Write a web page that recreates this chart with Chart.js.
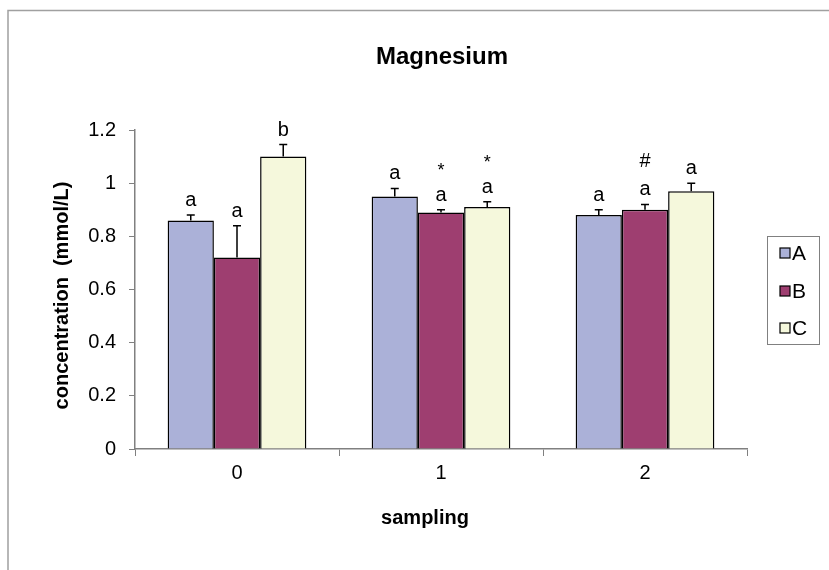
<!DOCTYPE html>
<html>
<head>
<meta charset="utf-8">
<script src="https://cdn.jsdelivr.net/npm/chart.js@4/dist/chart.umd.min.js"></script>
<style>
  html, body { margin: 0; padding: 0; background: #fff; }
  #wrap { width: 829px; height: 570px; }
</style>
</head>
<body>
<div id="wrap"><canvas id="chart" width="829" height="570"></canvas></div>
<script>
// данные
const samplings = ['0', '1', '2'];
const groupNames = ['A', 'B', 'C'];
const valuesA = [0.86, 0.95, 0.88];
const valuesB = [0.72, 0.89, 0.90];
const valuesC = [1.10, 0.91, 0.97];
const errorsA = [0.02, 0.03, 0.02];
const errorsB = [0.12, 0.01, 0.02];
const errorsC = [0.045, 0.02, 0.03];
const lettersA = ['a', 'a', 'a'];
const lettersB = ['a', 'a', 'a'];
const lettersC = ['b', 'a', 'a'];
const marksB = ['', '*', '#'];
const marksC = ['', '*', ''];
const yTickValues = [0, 0.2, 0.4, 0.6, 0.8, 1, 1.2];

const colors = ['#abb1d8', '#9e3e70', '#f5f8dc'];
const FONT = 'Liberation Sans, Arial, sans-serif';

const datasets = [
    { label: groupNames[0], data: valuesA, errors: errorsA, letters: lettersA, marks: ['', '', ''] },
    { label: groupNames[1], data: valuesB, errors: errorsB, letters: lettersB, marks: marksB },
    { label: groupNames[2], data: valuesC, errors: errorsC, letters: lettersC, marks: marksC }
].map((d, i) => Object.assign(d, {
    backgroundColor: colors[i],
    borderColor: '#000',
    borderWidth: 1.5,
    barPercentage: 1,
    categoryPercentage: 0.68
}));

// рисуем усы, буквы, подписи и легенду поверх графика
const extras = {
    id: 'extras',
    afterDatasetsDraw(chart) {
        const ctx = chart.ctx;
        const y = chart.scales.y;
        ctx.save();
        chart.data.datasets.forEach((ds, di) => {
            const meta = chart.getDatasetMeta(di);
            meta.data.forEach((bar, i) => {
                const top = y.getPixelForValue(ds.data[i]);
                const cap = y.getPixelForValue(ds.data[i] + ds.errors[i]);
                ctx.strokeStyle = '#000';
                ctx.lineWidth = 1.5;
                ctx.beginPath();
                ctx.moveTo(bar.x, top);
                ctx.lineTo(bar.x, cap);
                ctx.moveTo(bar.x - 4, cap);
                ctx.lineTo(bar.x + 4, cap);
                ctx.stroke();

                ctx.fillStyle = '#000';
                ctx.textAlign = 'center';
                ctx.textBaseline = 'alphabetic';
                ctx.font = '20px ' + FONT;
                ctx.fillText(ds.letters[i], bar.x, cap - 9);
                if (ds.marks[i]) {
                    ctx.font = (ds.marks[i] === '*' ? '18px ' : '20px ') + FONT;
                    ctx.fillText(ds.marks[i], bar.x, cap - (ds.marks[i] === '*' ? 34 : 37));
                }
            });
        });
        ctx.restore();
    },
    afterDraw(chart) {
        const ctx = chart.ctx;
        const area = chart.chartArea;
        ctx.save();

        // рамка
        ctx.strokeStyle = '#a0a0a0';
        ctx.lineWidth = 1.5;
        ctx.beginPath();
        ctx.moveTo(8, 570);
        ctx.lineTo(8, 10.5);
        ctx.lineTo(829, 10.5);
        ctx.stroke();

        ctx.fillStyle = '#000';
        ctx.textAlign = 'center';
        ctx.textBaseline = 'middle';
        ctx.font = 'bold 24px ' + FONT;
        ctx.fillText('Magnesium', 442, 57);

        ctx.font = 'bold 20px ' + FONT;
        ctx.fillText('sampling', 425, 518);

        ctx.save();
        ctx.translate(62, (area.top + area.bottom) / 2 + 6);
        ctx.rotate(-Math.PI / 2);
        ctx.fillText('concentration  (mmol/L)', 0, 0);
        ctx.restore();

        // легенда
        ctx.strokeStyle = '#808080';
        ctx.lineWidth = 1;
        ctx.strokeRect(767.5, 236.5, 52, 108);
        const rows = [253, 291, 328];
        chart.data.datasets.forEach((ds, i) => {
            ctx.fillStyle = ds.backgroundColor;
            ctx.fillRect(780, rows[i] - 5, 10, 10);
            ctx.strokeStyle = '#000';
            ctx.lineWidth = 1.2;
            ctx.strokeRect(780, rows[i] - 5, 10, 10);
            ctx.fillStyle = '#000';
            ctx.textAlign = 'left';
            ctx.font = '21px ' + FONT;
            ctx.fillText(ds.label, 792, rows[i] + 1);
        });
        ctx.restore();
    }
};

new Chart(document.getElementById('chart'), {
    type: 'bar',
    data: { labels: samplings, datasets: datasets },
    plugins: [extras],
    options: {
        responsive: false,
        animation: false,
        layout: { padding: { left: 0, top: 130, right: 82, bottom: 0 } },
        plugins: {
            legend: { display: false },
            title: { display: false },
            tooltip: { enabled: false }
        },
        scales: {
            x: {
                afterFit(scale) { scale.height = 121; },
                grid: {
                    offset: true,
                    drawOnChartArea: false,
                    tickLength: 7,
                    color: '#808080',
                    lineWidth: 1
                },
                border: { display: true, color: '#808080', width: 1.5 },
                ticks: { color: '#000', font: { family: FONT, size: 20 }, padding: 5 }
            },
            y: {
                min: 0,
                max: 1.2,
                afterFit(scale) { scale.width = 135; },
                afterBuildTicks(scale) { scale.ticks = yTickValues.map(v => ({ value: v })); },
                grid: {
                    drawOnChartArea: false,
                    tickLength: 6,
                    color: '#808080',
                    lineWidth: 1
                },
                border: { display: true, color: '#808080', width: 1.5 },
                ticks: {
                    color: '#000',
                    font: { family: FONT, size: 20 },
                    padding: 13,
                    callback: v => String(Math.round(v * 10) / 10)
                }
            }
        }
    }
});
</script>
</body>
</html>
